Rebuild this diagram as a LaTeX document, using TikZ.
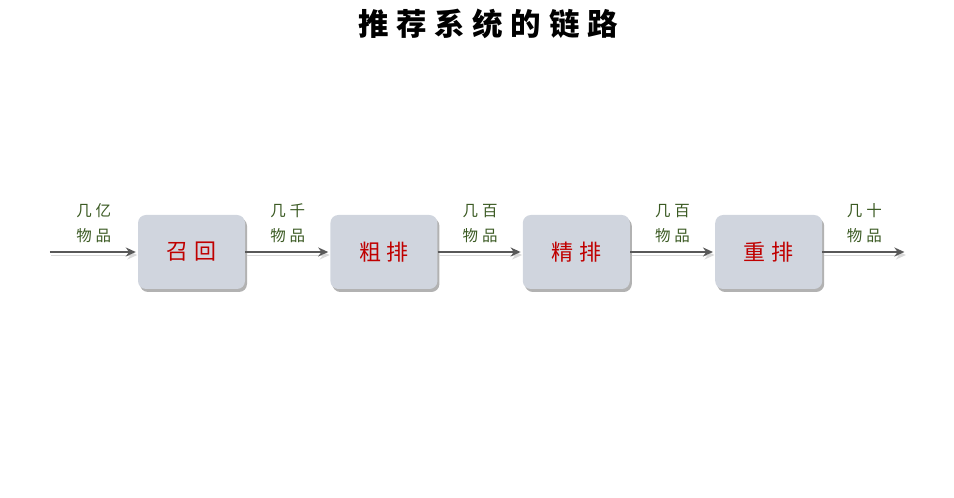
\documentclass[tikz,border=0pt]{standalone}
\usepackage{fontspec}
\setmainfont{Noto Sans CJK SC}
\newfontfamily\cjkwide{Noto Sans CJK SC}[LetterSpace=25]
\usepackage{xcolor}
\usetikzlibrary{arrows.meta, positioning, shadows}
\definecolor{boxfill}{HTML}{D0D5DE}
\definecolor{stagered}{HTML}{C00000}
\definecolor{volgreen}{HTML}{3B5A23}
\tikzset{
  stage/.style={rectangle, rounded corners=8pt, fill=boxfill, minimum width=107pt,
    minimum height=74pt, text=stagered, font=\cjkwide\fontsize{22}{24}\selectfont,
    drop shadow={shadow xshift=2pt, shadow yshift=-3pt, fill=black!30, opacity=1}},
  vol/.style={align=center, text=volgreen, font=\cjkwide\fontsize{15.5}{25}\selectfont},
  flow/.style={-{Stealth[length=10pt, width=9pt]}, line width=2.6pt, draw=black!65,
    shorten >=2pt, preaction={draw=black!15, transform canvas={shift={(1.5pt,-3pt)}}}}
}

\begin{document}
\begin{tikzpicture}[x=1pt, y=1pt, node distance=85pt]
  \useasboundingbox (0,0) rectangle (954,498);
  \node[font=\cjkwide\bfseries\fontsize{30.5}{34}\selectfont] (title) at (488,474) {推荐系统的链路};

  \node[stage] (recall) at (191.5,246) {召回};
  \node[stage, right=of recall] (prerank) {粗排};
  \node[stage, right=of prerank] (rank) {精排};
  \node[stage, right=of rank] (rerank) {重排};
  \coordinate[left=88pt of recall] (in);
  \coordinate[right=84pt of rerank] (out);

  \draw[flow] (in) -- node[vol, above=5pt] {几亿\\物品} (recall);
  \draw[flow] (recall) -- node[vol, above=5pt] {几千\\物品} (prerank);
  \draw[flow] (prerank) -- node[vol, above=5pt] {几百\\物品} (rank);
  \draw[flow] (rank) -- node[vol, above=5pt] {几百\\物品} (rerank);
  \draw[flow] (rerank) -- node[vol, above=5pt] {几十\\物品} (out);
\end{tikzpicture}
\end{document}
